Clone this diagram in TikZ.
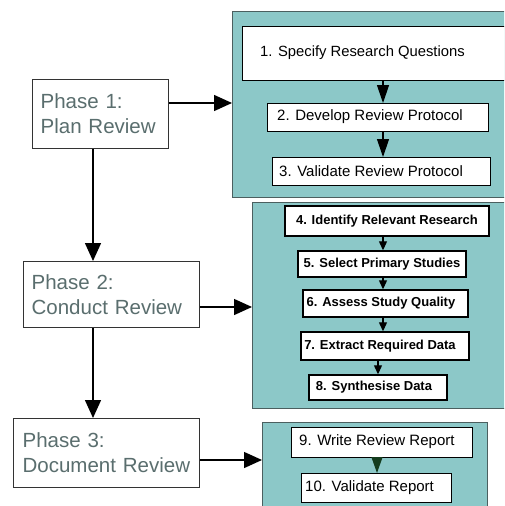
\documentclass[tikz,border=0pt]{standalone}
\usepackage{fontspec}
\setmainfont{Liberation Sans}
\usetikzlibrary{arrows.meta,calc}
\definecolor{panelfill}{RGB}{140,200,200}
\definecolor{paneldraw}{RGB}{75,95,95}
\definecolor{phasetext}{RGB}{90,110,110}
\definecolor{darkgreenhead}{RGB}{20,60,30}
\tikzset{
  panel/.style={draw=paneldraw, line width=1pt, fill=panelfill},
  phasebox/.style={draw=black!80, line width=1.3pt, fill=white, text=phasetext,
    align=left, inner sep=0pt, font=\fontsize{20.5}{25}\selectfont},
  stepbox/.style={draw=black, line width=1.4pt, fill=white, inner sep=0pt},
  steptext/.style={inner sep=0pt, font=\fontsize{15}{18}\selectfont},
  boldtext/.style={inner sep=0pt, font=\fontsize{13}{16}\selectfont\bfseries},
  bigarrow/.style={line width=1.4pt, -{Triangle[length=18pt,width=16pt]}},
  smallarrow/.style={line width=1.2pt, -{Triangle[length=18pt,width=12pt]}},
  tinyarrow/.style={line width=1.2pt, -{Triangle[length=9pt,width=8pt]}},
}
\begin{document}
\begin{tikzpicture}[x=1pt,y=-1pt]
\useasboundingbox (0,0) rectangle (504,506);
\begin{scope}
\clip (0,0) rectangle (504,506);
% panels
\node[panel, anchor=north west, minimum width=280, minimum height=186, inner sep=0pt] (pan1) at (232,11) {};
\node[panel, anchor=north west, minimum width=260, minimum height=206, inner sep=0pt] (pan2) at (252,202) {};
\node[panel, anchor=north west, minimum width=225, minimum height=95, inner sep=0pt] (pan3) at (262,422) {};

% phase boxes
\node[phasebox, anchor=north west, minimum width=136, minimum height=69, text width=124] (p1) at (32,79) {\hspace*{2pt}Phase 1:\\\hspace*{2pt}Plan Review};
\node[phasebox, anchor=north west, minimum width=176, minimum height=66, text width=164] (p2) at (23,261) {\hspace*{2pt}Phase 2:\\\hspace*{2pt}Conduct Review};
\node[phasebox, anchor=north west, minimum width=186, minimum height=69, text width=174] (p3) at (13,418) {\hspace*{3pt}Phase 3:\\\hspace*{3pt}Document Review};

% step boxes panel 1
\node[stepbox, anchor=north west, minimum width=280, minimum height=54] (b1) at (242,26) {};
\node[steptext, anchor=west, font=\fontsize{14.8}{18}\selectfont] (t1) at (260,53) {1. Specify Research Questions};
\node[stepbox, anchor=north west, minimum width=221, minimum height=28] (b2) at (267,103) {};
\node[steptext, anchor=west] (t2) at (277,117) {2. Develop Review Protocol};
\node[stepbox, anchor=north west, minimum width=218, minimum height=28] (b3) at (272,157) {};
\node[steptext, anchor=west] (t3) at (279,171) {3. Validate Review Protocol};

% step boxes panel 2
\node[stepbox, boldtext, minimum width=204, minimum height=30] (b4) at (387,221) {4. Identify Relevant Research};
\node[stepbox, boldtext, minimum width=168, minimum height=26] (b5) at (382,264) {5. Select Primary Studies};
\node[stepbox, boldtext, minimum width=165, minimum height=27] (b6) at (385.5,303.5) {\hspace*{-9pt}6. Assess Study Quality};
\node[stepbox, boldtext, minimum width=168, minimum height=28] (b7) at (385,346) {\hspace*{-10pt}7. Extract Required Data};
\node[stepbox, boldtext, minimum width=138, minimum height=25] (b8) at (378,387.5) {\hspace*{-8pt}8. Synthesise Data};

% step boxes panel 3
\node[stepbox, anchor=north west, minimum width=181, minimum height=30] (b9) at (291,427) {};
\node[steptext, anchor=west] (t9) at (299,442) {9. Write Review Report};
\node[stepbox, anchor=north west, minimum width=150, minimum height=29] (b10) at (301,473) {};
\node[steptext, anchor=west] (t10) at (305,487.5) {10. Validate Report};

% guide coordinates
\coordinate (ax1) at (383,0);
\coordinate (ax2) at (378,0);
\coordinate (ax3) at (377,0);
\coordinate (vx) at (93,0);
\coordinate (hy1) at (0,103);
\coordinate (hy2) at (0,307);
\coordinate (hy3) at (0,460);

% arrows inside panels
\draw[smallarrow] (b1.south -| ax1) -- (b2.north -| ax1);
\draw[smallarrow] (b2.south -| ax1) -- (b3.north -| ax1);
\draw[tinyarrow] (b4.south -| ax1) -- (b5.north -| ax1);
\draw[tinyarrow] (b5.south -| ax1) -- (b6.north -| ax1);
\draw[tinyarrow] (b6.south -| ax1) -- (b7.north -| ax1);
\draw[tinyarrow] (b7.south -| ax2) -- (b8.north -| ax2);
\draw[line width=1.2pt, draw=darkgreenhead, -{Triangle[length=16pt,width=11pt]}] (b9.south -| ax3) -- (b10.north -| ax3);

% phase arrows
\draw[bigarrow] (p1.east |- hy1) -- (pan1.west |- hy1);
\draw[bigarrow] (p2.east |- hy2) -- (pan2.west |- hy2);
\draw[bigarrow] (p3.east |- hy3) -- (pan3.west |- hy3);
\draw[bigarrow] (p1.south -| vx) -- (p2.north -| vx);
\draw[bigarrow] (p2.south -| vx) -- (p3.north -| vx);
\end{scope}
\end{tikzpicture}
\end{document}
